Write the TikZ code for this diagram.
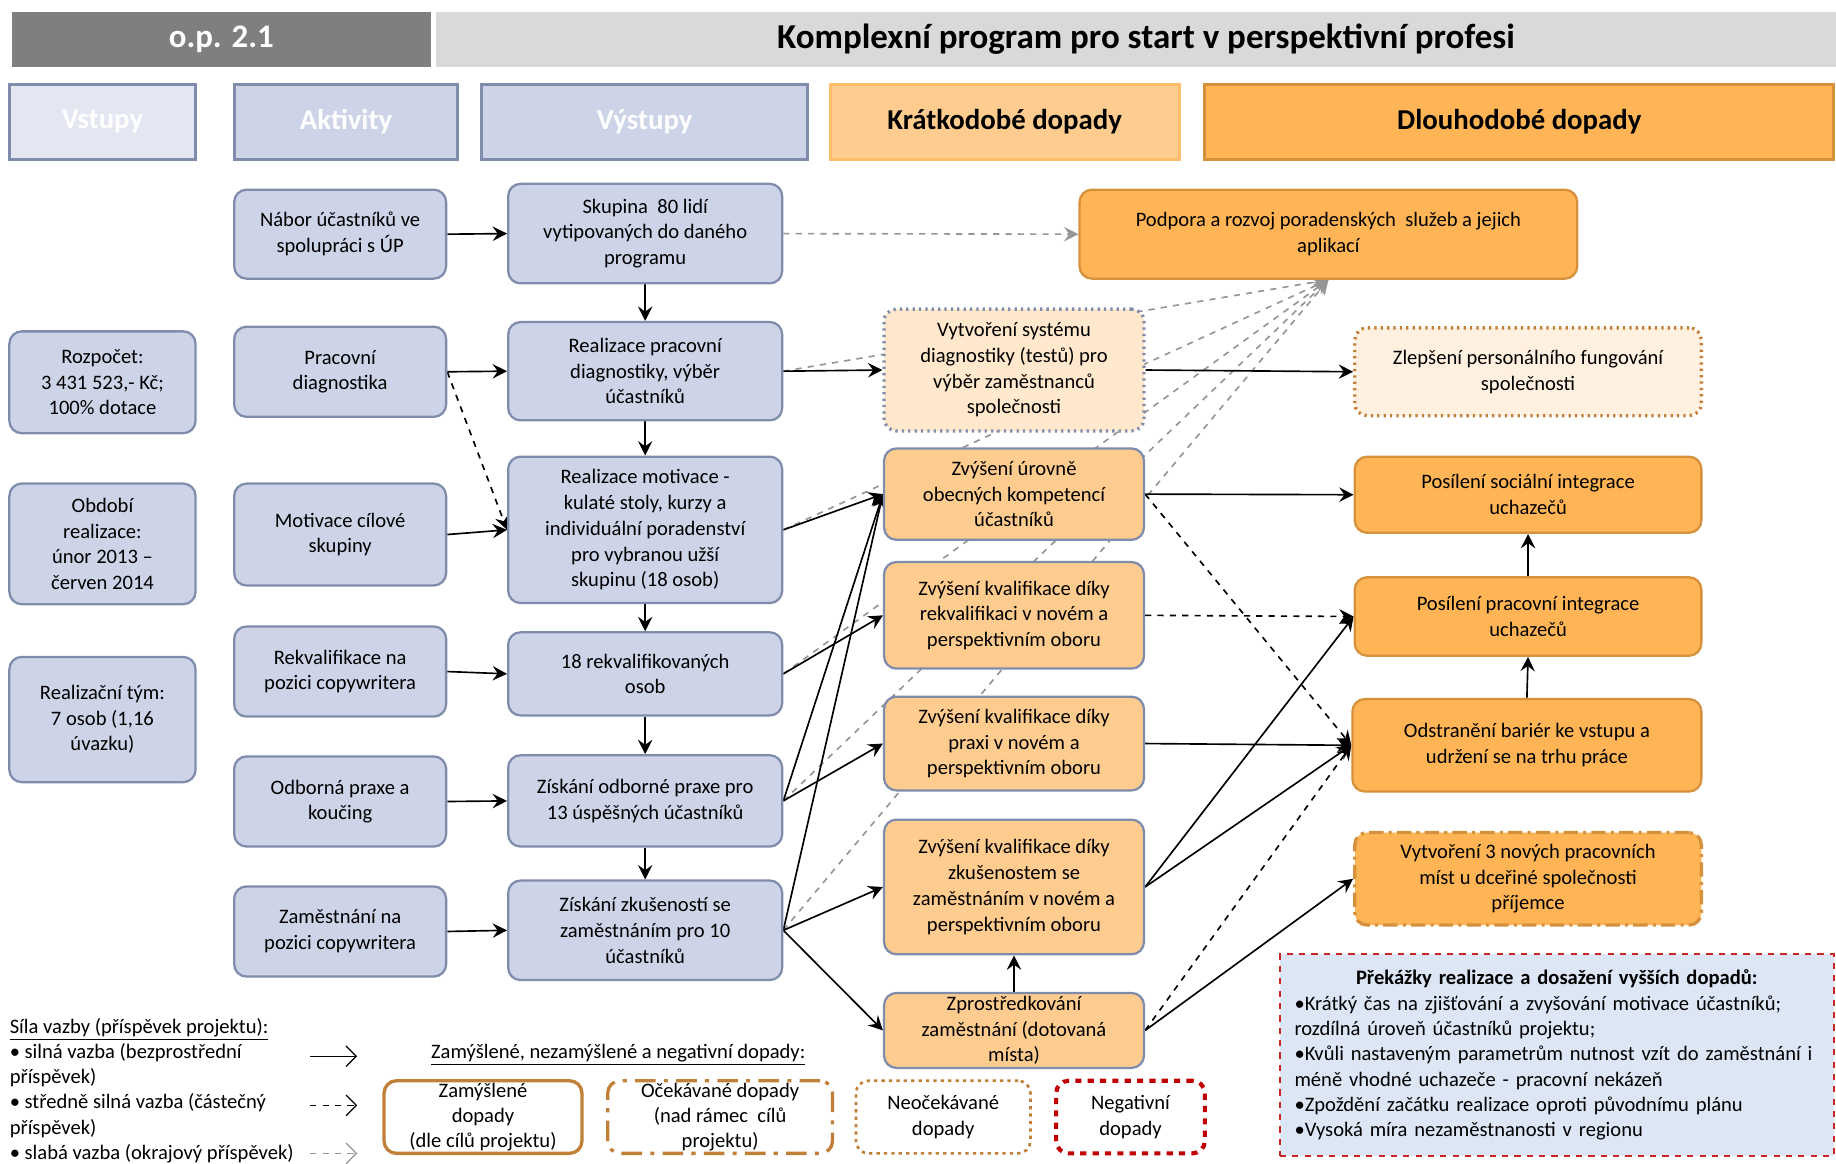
\documentclass[tikz,border=0pt]{standalone}
\usepackage{fontspec}
\setmainfont{Carlito}
\usetikzlibrary{arrows.meta,backgrounds}

\definecolor{sedatmava}{RGB}{127,127,127}
\definecolor{sedasvetla}{RGB}{217,217,217}
\definecolor{modra}{RGB}{206,212,232}
\definecolor{modraram}{RGB}{128,140,172}
\definecolor{svetlemodra}{RGB}{228,231,242}
\definecolor{oranzova}{RGB}{255,204,143}
\definecolor{oranzovasvetla}{RGB}{255,190,110}
\definecolor{tmaveoranzova}{RGB}{255,181,85}
\definecolor{oranzovaram}{RGB}{214,145,60}
\definecolor{bledeoranzova}{RGB}{255,232,204}
\definecolor{krem}{RGB}{255,240,224}
\definecolor{hneda}{RGB}{192,128,56}
\definecolor{cervena}{RGB}{192,0,0}
\definecolor{prekazky}{RGB}{220,230,245}
\definecolor{seda}{RGB}{150,150,150}

\tikzset{
  rozmer/.style 2 args={minimum width=#1*0.02cm, minimum height=#2*0.02cm},
  box/.style={draw, rounded corners=6pt, line width=1.1pt, align=center, inner sep=0pt,
    font=\fontsize{10}{12.5}\selectfont},
  modry/.style={box, fill=modra, draw=modraram},
  kratky/.style={box, fill=oranzova, draw=modraram},
  dlouhy/.style={box, fill=tmaveoranzova, draw=oranzovaram},
  legbox/.style={box, fill=white, draw=hneda, line width=1.6pt},
  hlavicka/.style={draw, line width=1.5pt, font=\fontsize{14}{17}\selectfont\bfseries},
  hrot/.style={-{Stealth[length=7pt,width=7pt,inset=2.5pt]}},
  silna/.style={line width=0.8pt, hrot},
  stredni/.style={silna, dashed},
  slaba/.style={line width=0.8pt, seda, dashed, hrot},
  vzor/.style={line width=0.6pt, -{Straight Barb[length=5pt,width=10pt]}},
}

\begin{document}
\begin{tikzpicture}[x=0.02cm, y=-0.02cm]
\useasboundingbox (0,0) rectangle (1568,994);

% zahlavi
\node[fill=sedatmava, rozmer={358}{47}, text=white, font=\fontsize{16}{19}\selectfont\bfseries] (op) at (189,33.5) {o.p. 2.1};
\node[fill=sedasvetla, rozmer={1196}{47}, font=\fontsize{17}{20}\selectfont\bfseries] (nazev) at (970,33.5) {\hspace{10pt}Komplexní program pro start v perspektivní profesi};

\node[hlavicka, fill=svetlemodra, draw=modraram, text=white, rozmer={159}{64}] (hvst) at (87.5,104) {Vstupy};
\node[hlavicka, fill=modra, draw=modraram, text=white, rozmer={191}{64}] (hakt) at (295.5,104) {Aktivity};
\node[hlavicka, fill=modra, draw=modraram, text=white, rozmer={279}{64}] (hvys) at (550.5,104) {Výstupy};
\node[hlavicka, fill=oranzova, draw=oranzovasvetla, rozmer={298}{64}] (hkra) at (858,104) {Krátkodobé dopady};
\node[hlavicka, fill=tmaveoranzova, draw=oranzovaram, rozmer={537}{64}] (hdlo) at (1297.5,104) {Dlouhodobé dopady};

% vstupy
\node[modry, rozmer={159}{87}] (rozp) at (87.5,326.5) {Rozpočet:\\3 431 523,- Kč;\\100\% dotace};
\node[modry, rozmer={159}{103}] (obd) at (87.5,464.5) {Období\\realizace:\\únor 2013 –\\červen 2014};
\node[modry, rozmer={159}{107}] (tym) at (87.5,614.5) {Realizační tým:\\7 osob (1,16\\úvazku)};

% aktivity
\node[modry, rozmer={181}{76}] (nabor) at (290.5,200) {Nábor účastníků ve\\spolupráci s ÚP};
\node[modry, rozmer={181}{77}] (pdiag) at (290.5,317.5) {Pracovní\\diagnostika};
\node[modry, rozmer={181}{87}] (motiv) at (290.5,456.5) {Motivace cílové\\skupiny};
\node[modry, rozmer={181}{77}] (rekv) at (290.5,573.5) {Rekvalifikace na\\pozici copywritera};
\node[modry, rozmer={181}{77}] (praxe) at (290.5,684.5) {Odborná praxe a\\koučing};
\node[modry, rozmer={181}{77}] (zam) at (290.5,795.5) {Zaměstnání na\\pozici copywritera};

% vystupy
\node[modry, rozmer={234}{85}] (skup) at (551,199.5) {Skupina~ 80 lidí\\vytipovaných do daného\\programu};
\node[modry, rozmer={234}{84}] (rdiag) at (551,317) {Realizace pracovní\\diagnostiky, výběr\\účastníků};
\node[modry, rozmer={234}{125}] (rmot) at (551,452.5) {Realizace motivace -\\kulaté stoly, kurzy a\\individuální poradenství\\pro vybranou užší\\skupinu (18 osob)};
\node[modry, rozmer={234}{71}] (rekvo) at (551,575.5) {18 rekvalifikovaných\\osob};
\node[modry, rozmer={234}{78}] (zprax) at (551,684) {Získání odborné praxe pro\\13 úspěšných účastníků};
\node[modry, rozmer={234}{85}] (zzkus) at (551,794.5) {Získání zkušeností se\\zaměstnáním pro 10\\účastníků};

% kratkodobe dopady
\node[box, fill=bledeoranzova, draw=modraram, dotted, line width=1.6pt, rozmer={222}{104}] (vsys) at (866,316) {Vytvoření systému\\diagnostiky (testů) pro\\výběr zaměstnanců\\společnosti};
\node[kratky, rozmer={222}{78}] (zuro) at (866,422) {Zvýšení úrovně\\obecných kompetencí\\účastníků};
\node[kratky, rozmer={222}{91}] (zrekv) at (866,525.5) {Zvýšení kvalifikace díky\\rekvalifikaci v novém a\\perspektivním oboru};
\node[kratky, rozmer={222}{80}] (zprx) at (866,635) {Zvýšení kvalifikace díky\\praxi v novém a\\perspektivním oboru};
\node[kratky, rozmer={222}{115}] (zzam) at (866,757.5) {Zvýšení kvalifikace díky\\zkušenostem se\\zaměstnáním v novém a\\perspektivním oboru};
\node[kratky, rozmer={222}{64}] (zpros) at (866,880) {Zprostředkování\\zaměstnání (dotovaná\\místa)};

% dlouhodobe dopady
\node[dlouhy, rozmer={425}{76}] (podp) at (1134.5,200) {Podpora a rozvoj poradenských~ služeb a jejich\\aplikací};
\node[box, fill=krem, draw=hneda, dotted, line width=1.6pt, rozmer={296}{75}] (zlep) at (1305,317.5) {Zlepšení personálního fungování\\společnosti};
\node[dlouhy, rozmer={296}{65}] (psoc) at (1305,422.5) {Posílení sociální integrace\\uchazečů};
\node[dlouhy, rozmer={296}{67}] (ppra) at (1305,526.5) {Posílení pracovní integrace\\uchazečů};
\node[dlouhy, rozmer={298}{79}] (odst) at (1304,636.5) {Odstranění bariér ke vstupu a\\udržení se na trhu práce};
\node[dlouhy, dash pattern=on 7pt off 2.5pt on 1.5pt off 2.5pt, line width=1.6pt, rozmer={296}{79}] (vnov) at (1305,750.5) {Vytvoření 3 nových pracovních\\míst u dceřiné společnosti\\příjemce};

% legenda
\node[anchor=north west, align=left, inner sep=0pt, font=\fontsize{10}{12.3}\selectfont] (sila) at (8,869)
  {\underline{Síla vazby (příspěvek projektu):}\\
   • silná vazba (bezprostřední\\příspěvek)\\
   • středně silná vazba (částečný\\příspěvek)\\
   • slabá vazba (okrajový příspěvek)};
\coordinate (ls1) at (265,902);
\coordinate (ls2) at (265,944);
\coordinate (ls3) at (265,985);
\draw[vzor] (ls1) -- ++(40,0);
\draw[vzor, dashed] (ls2) -- ++(40,0);
\draw[vzor, dashed, seda] (ls3) -- ++(40,0);

\node[font=\fontsize{10}{12.3}\selectfont] (zamnadpis) at (528,901) {\underline{Zamýšlené, nezamýšlené a negativní dopady:}};
\node[legbox, rozmer={169}{62}, font=\fontsize{10}{12.3}\selectfont] (zamy) at (412.5,954) {Zamýšlené\\dopady\\(dle cílů projektu)};
\node[legbox, dash pattern=on 10pt off 4pt on 2pt off 4pt, rozmer={192}{62}, font=\fontsize{10}{12.3}\selectfont] (ocek) at (615,954) {Očekávané dopady\\(nad rámec~ cílů\\projektu)};
\node[legbox, dotted, line width=1.3pt, rozmer={149}{62}, font=\fontsize{10}{12.3}\selectfont] (neoc) at (805.5,954) {Neočekávané\\dopady};
\node[box, fill=white, draw=cervena, dashed, line width=2pt, rozmer={127}{62}, font=\fontsize{10}{12.3}\selectfont] (nega) at (965.5,954) {Negativní\\dopady};

\node[draw=cervena!85, dashed, line width=0.8pt, fill=prekazky, text width=8.96cm, inner xsep=0.25cm, inner ysep=0pt,
  rozmer={473}{172}, align=left, font=\fontsize{10}{12.3}\selectfont] (prek) at (1329.5,901)
  {\hyphenpenalty=10000
   {\centering\textbf{Překážky realizace a dosažení vyšších dopadů:}\par}
   •Krátký čas na zjišťování a zvyšování motivace účastníků;\\
   rozdílná úroveň účastníků projektu;\\
   •Kvůli nastaveným parametrům nutnost vzít do zaměstnání i\\
   méně vhodné uchazeče - pracovní nekázeň\\
   •Zpoždění začátku realizace oproti původnímu plánu\\
   •Vysoká míra nezaměstnanosti v regionu};

% vazby pod boxy
\begin{scope}[on background layer]
\fill[white] (0,0) rectangle (1568,994);
\foreach \z in {rdiag,rmot,rekvo,zprax,zzkus}
  \draw[slaba] (\z.east) -- (podp.south); % slabe vazby na poradenstvi
\draw[slaba] (skup.east) -- (podp.west);
% aktivity -> vystupy
\draw[silna] (nabor.east) -- (skup.west);
\draw[silna] (pdiag.east) -- (rdiag.west);
\draw[stredni] (pdiag.east) -- (rmot.west);
\draw[silna] (motiv.east) -- (rmot.west);
\draw[silna] (rekv.east) -- (rekvo.west);
\draw[silna] (praxe.east) -- (zprax.west);
\draw[silna] (zam.east) -- (zzkus.west);
% retez vystupu
\draw[silna] (skup.south) -- (rdiag.north);
\draw[silna] (rdiag.south) -- (rmot.north);
\draw[silna] (rmot.south) -- (rekvo.north);
\draw[silna] (rekvo.south) -- (zprax.north);
\draw[silna] (zprax.south) -- (zzkus.north);
% vystupy -> kratkodobe dopady
\draw[silna] (rdiag.east) -- (vsys.west);
\draw[silna] (rmot.east) -- (zuro.west);
\draw[silna] (rekvo.east) -- (zrekv.west);
\draw[silna] (zprax.east) -- (zuro.west);
\draw[silna] (zprax.east) -- (zprx.west);
\draw[silna] (zzkus.east) -- (zuro.west);
\draw[silna] (zzkus.east) -- (zzam.west);
\draw[silna] (zzkus.east) -- (zpros.west);
\draw[silna] (zpros.north) -- (zzam.south);
% kratkodobe -> dlouhodobe dopady
\draw[silna] (vsys.east) -- (zlep.west);
\draw[silna] (zuro.east) -- (psoc.west);
\draw[stredni] (zuro.east) -- (odst.west);
\draw[stredni] (zrekv.east) -- (ppra.west);
\draw[silna] (zprx.east) -- (odst.west);
\draw[silna] (zzam.east) -- (ppra.west);
\draw[silna] (zzam.east) -- (odst.west);
\draw[stredni] (zpros.east) -- (odst.west);
\draw[silna] (zpros.east) -- (vnov.west);
\draw[silna] (odst.north) -- (ppra.south);
\draw[silna] (ppra.north) -- (psoc.south);
\end{scope}
\end{tikzpicture}
\end{document}
